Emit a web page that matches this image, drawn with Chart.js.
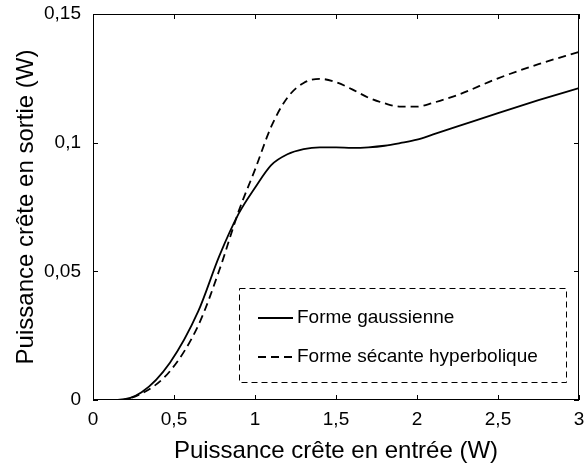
<!DOCTYPE html>
<html>
<head>
<meta charset="utf-8">
<script src="https://cdn.jsdelivr.net/npm/chart.js@4/dist/chart.umd.min.js"></script>
<style>
    html, body { margin: 0; padding: 0; background: #fff; }
    #wrap { position: relative; width: 586px; height: 468px; }
</style>
</head>
<body>
<div id="wrap"><canvas id="chart" width="586" height="468"></canvas></div>
<script>
const xValues = [0, 0.15, 0.3, 0.475, 0.65, 0.78, 0.9, 1.0, 1.1, 1.2, 1.3, 1.4, 1.5, 1.6, 1.7, 1.8, 1.9, 2.0, 2.1, 2.25, 2.5, 2.75, 3.0];
const gaussValues = [0, 0, 0.0030, 0.0145, 0.0345, 0.0560, 0.0725, 0.0825, 0.0913, 0.0955, 0.0975, 0.0982, 0.0982, 0.0980, 0.0982, 0.0988, 0.0999, 0.1012, 0.1032, 0.1063, 0.1115, 0.1165, 0.1212];
const secanteValues = [0, 0, 0.0025, 0.0112, 0.0290, 0.0505, 0.0735, 0.0895, 0.1062, 0.1175, 0.1232, 0.1248, 0.1235, 0.1207, 0.1175, 0.1153, 0.1140, 0.1140, 0.1155, 0.1185, 0.1250, 0.1305, 0.1353];
const seriesLabels = ['Forme gaussienne', 'Forme sécante hyperbolique'];
const xTitle = 'Puissance crête en entrée (W)';
const yTitle = 'Puissance crête en sortie (W)';

const FONT = "'Liberation Sans', Arial, sans-serif";

function frenchNum(v) {
    return String(Number(v.toFixed(2))).replace('.', ',');
}

// cadre + graduations vers l'intérieur (style MATLAB)
const framePlugin = {
    id: 'frame',
    afterDatasetsDraw(chart) {
        const { ctx, chartArea: a, scales } = chart;
        ctx.save();
        ctx.strokeStyle = '#000';
        ctx.lineWidth = 1;
        ctx.strokeRect(a.left + 0.5, a.top + 0.5, a.right - a.left - 1, a.bottom - a.top - 1);
        const len = 5;
        ctx.beginPath();
        scales.x.ticks.forEach(t => {
            const px = Math.round(scales.x.getPixelForValue(t.value)) + 0.5;
            ctx.moveTo(px, a.bottom); ctx.lineTo(px, a.bottom - len);
            ctx.moveTo(px, a.top); ctx.lineTo(px, a.top + len);
        });
        scales.y.ticks.forEach(t => {
            const py = Math.round(scales.y.getPixelForValue(t.value)) + 0.5;
            ctx.moveTo(a.left, py); ctx.lineTo(a.left + len, py);
            ctx.moveTo(a.right, py); ctx.lineTo(a.right - len, py);
        });
        ctx.stroke();
        ctx.restore();
    }
};

// légende encadrée en pointillés
const legendBoxPlugin = {
    id: 'legendBox',
    afterDraw(chart, args, opts) {
        const { ctx } = chart;
        ctx.save();
        ctx.strokeStyle = '#000';
        ctx.lineWidth = 1;
        ctx.setLineDash([6, 4]);
        ctx.strokeRect(opts.left + 0.5, opts.top + 0.5, opts.width, opts.height);
        ctx.font = opts.fontSize + 'px ' + FONT;
        ctx.fillStyle = '#000';
        ctx.textBaseline = 'middle';
        chart.data.datasets.forEach((ds, i) => {
            const y = opts.top + opts.firstRow + i * opts.rowGap;
            ctx.setLineDash(ds.borderDash || []);
            ctx.lineWidth = ds.borderWidth;
            ctx.beginPath();
            ctx.moveTo(opts.left + opts.lineStart, y);
            ctx.lineTo(opts.left + opts.lineStart + opts.lineLen, y);
            ctx.stroke();
            ctx.fillText(ds.label, opts.left + opts.lineStart + opts.lineLen + 4, y);
        });
        ctx.restore();
    }
};

const ctx = document.getElementById('chart').getContext('2d');
new Chart(ctx, {
    type: 'line',
    data: {
        datasets: [
            {
                label: seriesLabels[0],
                data: xValues.map((x, i) => ({ x: x, y: gaussValues[i] })),
                borderColor: '#000',
                borderWidth: 1.8,
                pointRadius: 0,
                cubicInterpolationMode: 'monotone',
                fill: false
            },
            {
                label: seriesLabels[1],
                data: xValues.map((x, i) => ({ x: x, y: secanteValues[i] })),
                borderColor: '#000',
                borderWidth: 1.8,
                borderDash: [8, 5],
                pointRadius: 0,
                cubicInterpolationMode: 'monotone',
                fill: false
            }
        ]
    },
    options: {
        responsive: false,
        animation: false,
        layout: { padding: { top: 14, right: 7, left: 0, bottom: 0 } },
        plugins: {
            legend: { display: false },
            tooltip: { enabled: false },
            legendBox: {
                left: 239, top: 288, width: 327, height: 94,
                firstRow: 30, rowGap: 39, lineStart: 19, lineLen: 35, fontSize: 19
            }
        },
        scales: {
            x: {
                type: 'linear',
                min: 0,
                max: 3,
                grid: { display: false },
                border: { display: false },
                ticks: {
                    stepSize: 0.5,
                    padding: 0,
                    color: '#000',
                    font: { family: FONT, size: 19 },
                    maxRotation: 0,
                    callback: v => frenchNum(v)
                },
                title: {
                    display: true,
                    text: xTitle,
                    color: '#000',
                    font: { family: FONT, size: 24 },
                    padding: { top: 0, bottom: 2 }
                },
                afterFit: s => { s.height = 68; s.paddingLeft = 0; s.paddingRight = 0; }
            },
            y: {
                type: 'linear',
                min: 0,
                max: 0.15,
                grid: { display: false },
                border: { display: false },
                ticks: {
                    stepSize: 0.05,
                    padding: 4,
                    color: '#000',
                    font: { family: FONT, size: 19 },
                    callback: v => frenchNum(v)
                },
                title: {
                    display: true,
                    text: yTitle,
                    color: '#000',
                    font: { family: FONT, size: 24 },
                    padding: { top: 12, bottom: 0 }
                },
                afterFit: s => { s.width = 93; s.paddingTop = 0; s.paddingBottom = 0; }
            }
        }
    },
    plugins: [framePlugin, legendBoxPlugin]
});
</script>
</body>
</html>
